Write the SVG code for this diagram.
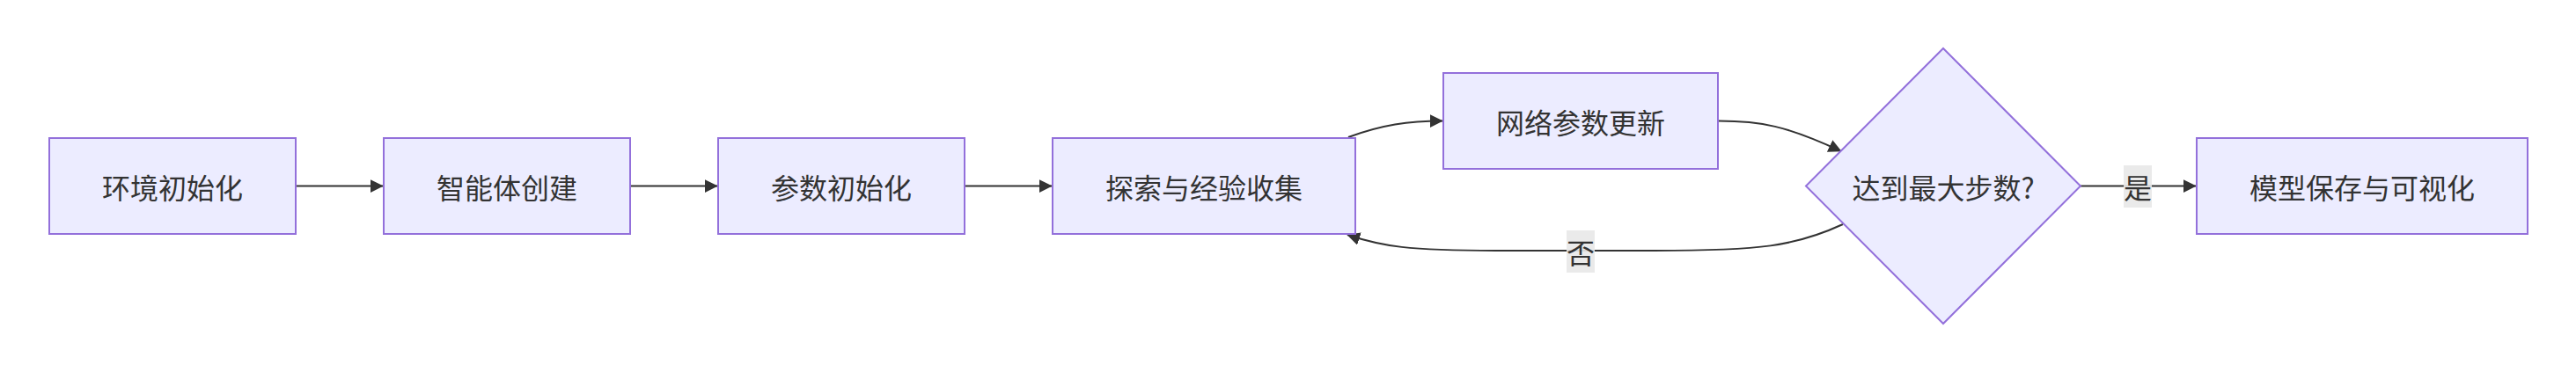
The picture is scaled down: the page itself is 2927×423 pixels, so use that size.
<svg xmlns="http://www.w3.org/2000/svg" width="2927" height="423" viewBox="0 0 2927 423">
<style>
.node rect, .node polygon { fill: #ECECFF; stroke: #9370DB; stroke-width: 2; }
.label { font-family: "Noto Sans CJK SC", "Noto Sans", sans-serif; font-size: 32px; fill: #333333; text-anchor: middle; dominant-baseline: central; }
.edge { fill: none; stroke: #333333; stroke-width: 2; }
.elbg { fill: #e8e8e8; opacity: 0.9; }
</style>
<defs>
<marker id="arrow" viewBox="0 0 10 10" refX="9.5" refY="5" markerUnits="userSpaceOnUse" markerWidth="15" markerHeight="15" orient="auto">
<path d="M0,0 L10,5 L0,10 z" fill="#333333"/>
</marker>
</defs>
<rect width="2927" height="423" fill="#ffffff"/>
<g id="connectors">
<path class="edge" d="M337,211.5 L435,211.5" marker-end="url(#arrow)"/>
<path class="edge" d="M717,211.5 L815,211.5" marker-end="url(#arrow)"/>
<path class="edge" d="M1097,211.5 L1195,211.5" marker-end="url(#arrow)"/>
<path class="edge" d="M1532,156 C1570,142 1600,137.5 1639,137.5" marker-end="url(#arrow)"/>
<path class="edge" d="M1953,137.5 C2000,137.5 2030,143 2092,172" marker-end="url(#arrow)"/>
<path class="edge" d="M2094,255 C2040,280 2000,285 1880,285 L1700,285 C1600,285 1570,280 1531,267" marker-end="url(#arrow)"/>
<path class="edge" d="M2364,211.5 L2495,211.5" marker-end="url(#arrow)"/>
<g id="label-no">
<rect class="elbg" x="1780" y="262" width="32" height="48"/>
<text class="label" x="1796" y="286">否</text>
</g>
<g id="label-yes">
<rect class="elbg" x="2413" y="188" width="32" height="48"/>
<text class="label" x="2429" y="212">是</text>
</g>
</g>
<g id="n1" class="node">
<rect x="56" y="157" width="280" height="109"/>
<text class="label" x="196" y="211.5">环境初始化</text>
</g>
<g id="n2" class="node">
<rect x="436" y="157" width="280" height="109"/>
<text class="label" x="576" y="211.5">智能体创建</text>
</g>
<g id="n3" class="node">
<rect x="816" y="157" width="280" height="109"/>
<text class="label" x="956" y="211.5">参数初始化</text>
</g>
<g id="n4" class="node">
<rect x="1196" y="157" width="344" height="109"/>
<text class="label" x="1368" y="211.5">探索与经验收集</text>
</g>
<g id="n5" class="node">
<rect x="1640" y="83" width="312" height="109"/>
<text class="label" x="1796" y="137.5">网络参数更新</text>
</g>
<g id="n6" class="node">
<polygon points="2208,55 2364,211.5 2208,368 2052,211.5"/>
<text class="label" x="2208" y="211.5">达到最大步数?</text>
</g>
<g id="n7" class="node">
<rect x="2496" y="157" width="376" height="109"/>
<text class="label" x="2684" y="211.5">模型保存与可视化</text>
</g>
</svg>
